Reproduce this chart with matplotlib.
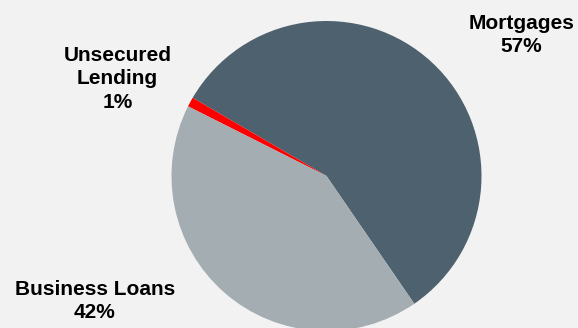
import matplotlib.pyplot as plt

categories = ["Mortgages", "Unsecured\nLending", "Business Loans"]
shares = [57, 1, 42]
colors = ["#4d626e", "#ff0000", "#a4adb2"]

W, H = 578, 328
fig = plt.figure(figsize=(W / 100, H / 100), dpi=100)
fig.patch.set_facecolor("#f2f2f2")

# pie placed in pixel units: centre (326.5, 176), radius 155
cx, cy, r = 326.5, 176, 155
ax = fig.add_axes([(cx - r) / W, (H - cy - r) / H, 2 * r / W, 2 * r / H])
ax.pie(shares, colors=colors, startangle=-55.5, counterclock=True,
       radius=1.0, wedgeprops=dict(linewidth=0))
ax.set_xlim(-1, 1)
ax.set_ylim(-1, 1)
ax.set_aspect("equal")
ax.axis("off")

# label centres in pixels (x, y from top)
label_pos = [(521.5, 35), (117.5, 79), (95, 301)]
for name, val, (lx, ly) in zip(categories, shares, label_pos):
    fig.text(lx / W, 1 - ly / H, f"{name}\n{val}%", ha="center", va="center",
             fontsize=15, fontweight="bold", family="Liberation Sans",
             linespacing=1.3)

fig.savefig("out.png", dpi=100, facecolor=fig.get_facecolor())
